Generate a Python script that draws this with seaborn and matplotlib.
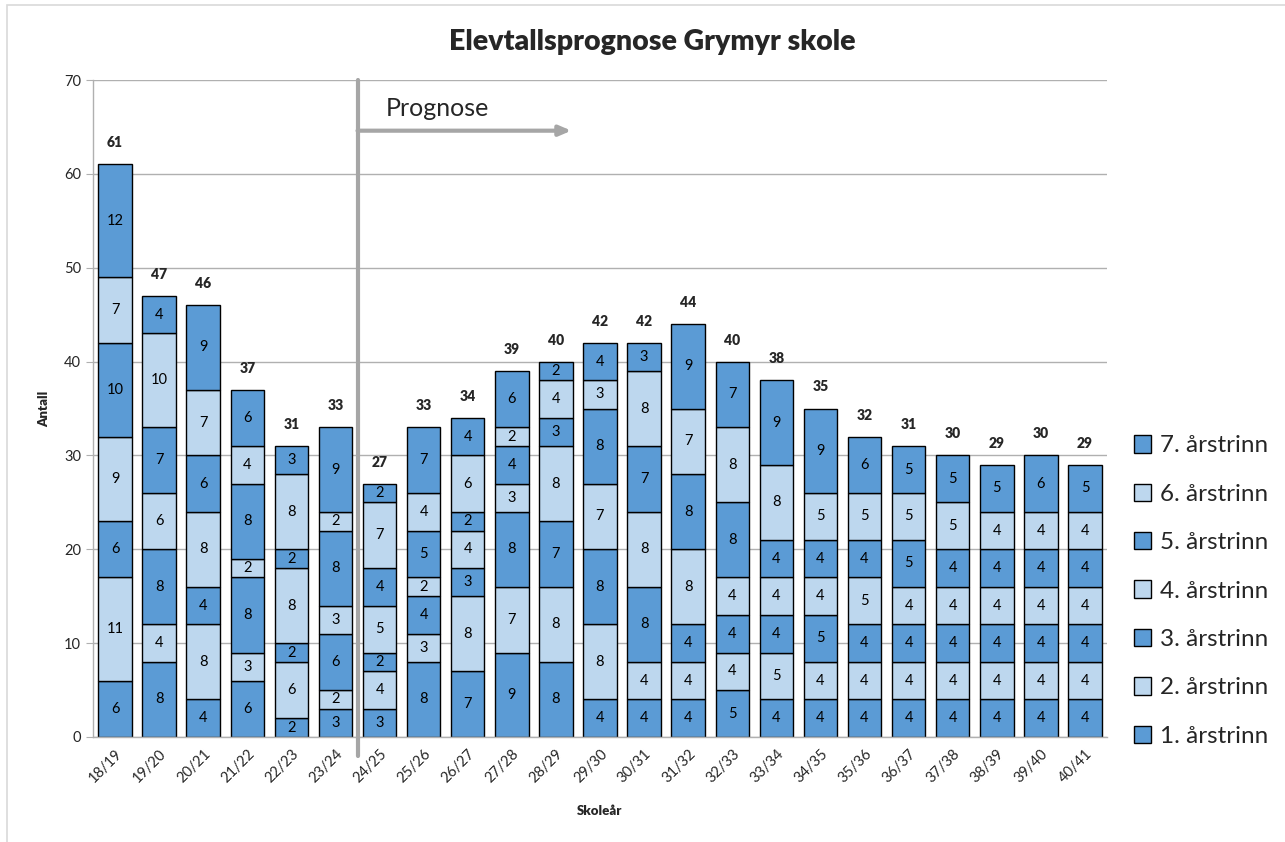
import numpy as np
import pandas as pd
import matplotlib
matplotlib.use("Agg")
import matplotlib.pyplot as plt
import matplotlib.patches as patches
import seaborn as sns

years = ["18/19", "19/20", "20/21", "21/22", "22/23", "23/24", "24/25", "25/26",
         "26/27", "27/28", "28/29", "29/30", "30/31", "31/32", "32/33", "33/34",
         "34/35", "35/36", "36/37", "37/38", "38/39", "39/40", "40/41"]

trinn1 = [6, 8, 4, 6, 2, 3, 3, 8, 7, 9, 8, 4, 4, 4, 5, 4, 4, 4, 4, 4, 4, 4, 4]
trinn2 = [11, 4, 8, 3, 6, 2, 4, 3, 8, 7, 8, 8, 4, 4, 4, 5, 4, 4, 4, 4, 4, 4, 4]
trinn3 = [6, 8, 4, 8, 2, 6, 2, 4, 3, 8, 7, 8, 8, 4, 4, 4, 5, 4, 4, 4, 4, 4, 4]
trinn4 = [9, 6, 8, 2, 8, 3, 5, 2, 4, 3, 8, 7, 8, 8, 4, 4, 4, 5, 4, 4, 4, 4, 4]
trinn5 = [10, 7, 6, 8, 2, 8, 4, 5, 2, 4, 3, 8, 7, 8, 8, 4, 4, 4, 5, 4, 4, 4, 4]
trinn6 = [7, 10, 7, 4, 8, 2, 7, 4, 6, 2, 4, 3, 8, 7, 8, 8, 5, 5, 5, 5, 4, 4, 4]
trinn7 = [12, 4, 9, 6, 3, 9, 2, 7, 4, 6, 2, 4, 3, 9, 7, 9, 9, 6, 5, 5, 5, 6, 5]

grades = ["1. årstrinn", "2. årstrinn", "3. årstrinn", "4. årstrinn",
          "5. årstrinn", "6. årstrinn", "7. årstrinn"]

df = pd.DataFrame({"year": years, grades[0]: trinn1, grades[1]: trinn2,
                   grades[2]: trinn3, grades[3]: trinn4, grades[4]: trinn5,
                   grades[5]: trinn6, grades[6]: trinn7})

dark = "#5B9BD5"
light = "#BDD7EE"
grid_col = "#B0B0B0"

sns.set_style("white")
plt.rcParams["font.family"] = ["Lato", "DejaVu Sans"]

fig = plt.figure(figsize=(12.85, 8.42), dpi=100)
ax = fig.add_axes([93 / 1285, 1 - 737 / 842, (1107 - 93) / 1285, (737 - 80) / 842])

bottom = np.zeros(len(years))
for i, g in enumerate(grades):
    col = dark if i % 2 == 0 else light
    sns.barplot(data=df, x="year", y=g, bottom=bottom, color=col, saturation=1,
                edgecolor="black", linewidth=1, width=0.76, errorbar=None, ax=ax)
    c = ax.containers[-1]
    ax.bar_label(c, labels=[str(v) for v in df[g]], label_type="center",
                 fontsize=10.5, color="black")
    bottom = bottom + df[g].values

totals = bottom.astype(int)
for i, t in enumerate(totals):
    ax.text(i, t + 1.6, str(t), ha="center", va="bottom", fontsize=10,
            fontweight="heavy")

ax.set_xlim(-0.5, len(years) - 0.5)
ax.set_ylim(0, 70)
ax.set_yticks(range(0, 71, 10))
ax.yaxis.grid(True, color=grid_col, linewidth=1)
ax.set_axisbelow(True)
for s in ["top", "right"]:
    ax.spines[s].set_visible(False)
for s in ["left", "bottom"]:
    ax.spines[s].set_color(grid_col)
    ax.spines[s].set_linewidth(1)

ax.set_xticks(np.arange(len(years)))
ax.set_xticklabels(years, rotation=45, ha="right", rotation_mode="anchor", fontsize=10.5)
ax.set_xticks(np.arange(-0.5, len(years), 1), minor=True)
ax.tick_params(axis="x", which="major", length=0, pad=7)
ax.tick_params(axis="x", which="minor", length=5, color=grid_col)
ax.tick_params(axis="y", length=5, color=grid_col, labelsize=10.5, left=True)

ax.set_xlabel("Skoleår", fontsize=9.5, fontweight="heavy", labelpad=14)
ax.set_ylabel("Antall", fontsize=9.5, fontweight="heavy", labelpad=10)
fig.text(652 / 1285, 1 - 42 / 842, "Elevtallsprognose Grymyr skole", fontsize=20.5,
         fontweight="heavy", ha="center", va="center")

# prognosis separator and arrow
ax.plot([5.5, 5.5], [-2, 70], color="#A6A6A6", linewidth=3, clip_on=False, zorder=5)
ax.annotate("", xy=(10.35, 64.6), xytext=(5.5, 64.6),
            arrowprops=dict(arrowstyle="-|>,head_length=0.7,head_width=0.3",
                            color="#A6A6A6", linewidth=3, shrinkA=0, shrinkB=0))
ax.text(6.15, 67.0, "Prognose", fontsize=18, va="center", ha="left")

handles = [patches.Patch(facecolor=(dark if i % 2 == 0 else light), edgecolor="black",
                         linewidth=1) for i in range(len(grades))]
fig.legend(handles[::-1], grades[::-1], loc="center left",
           bbox_to_anchor=(1112 / 1285, 1 - 591 / 842), frameon=False, fontsize=17.5,
           handlelength=0.72, handleheight=0.72, handletextpad=0.35, labelspacing=1.12)

fig.add_artist(patches.Rectangle((7 / 1285, -0.05), 1.0, 0.994 + 0.05,
                                 transform=fig.transFigure, fill=False,
                                 edgecolor="#D9D9D9", linewidth=1.2))

fig.savefig("out.png", dpi=100)
